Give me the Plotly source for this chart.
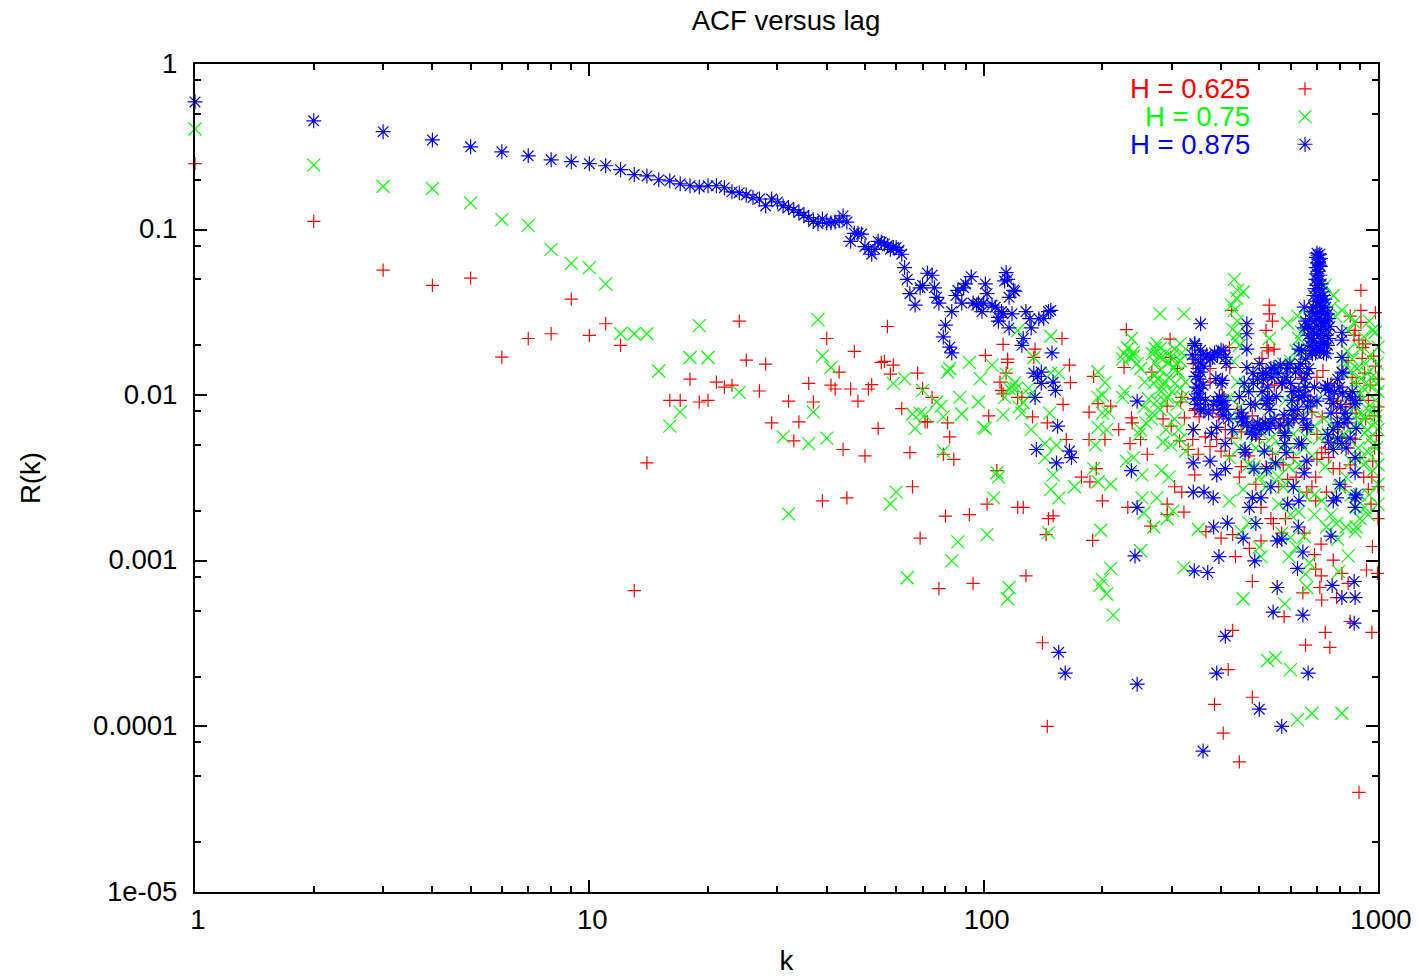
import plotly.graph_objects as go

TITLE = "ACF versus lag"
X_LABEL = "k"
Y_LABEL = "R(k)"
NAMES = ["H = 0.625", "H = 0.75", "H = 0.875"]
COLORS = ["#ff0000", "#00ff00", "#0000ff"]
X_TICKS = [1, 10, 100, 1000]
Y_TICKS = [1, 0.1, 0.01, 0.001, 0.0001, 0.00001]
Y_TICK_TEXT = ["1", "0.1", "0.01", "0.001", "0.0001", "1e-05"]

h625 = [(1,.25),(2,.112),(3,.057),(4,.046),(5,.051),(6,.017),(7,.022),(8,.0235),(9,.038),(10,.023),(11,.027),(12,.02),(13,.00066),(14,.0039),
(16,.0093),(17,.0093),(18,.0125),(19,.0091),(20,.0093),(21,.012),(22,.0112),(23,.0115),(24,.028),(25,.0163),(27,.0106),(28,.0154),(29,.0068),(32,.0092),(33,.0053),(34,.0069),(36,.0118),(37,.0091),(39,.0023),(40,.022),(41,.0115),(42,.0109),(43,.0138),(44,.0047),(45,.0024),(46,.0109),(47,.0184),(48,.0092),(50,.0043),(51,.0109),(52,.0116),(54,.0063),(55,.0158),(56,.016),(57,.026),(58,.0134),(59,.0152),(62,.0083),(65,.0045),(66,.0028),(68,.0136),(69,.00137),(70,.011),(71,.0069),(72,.0069),(74,.0097),(77,.00068),(79,.0044),(80,.00186),(81,.0068),(82,.0056),(84,.0041),(92,.0019),(94,.00073),(101,.0174),(102,.0022),(103,.0075),(108,.0035),(110,.012),(111,.0107),(112,.0203),(112,.0102),(114,.0136),(115,.0165),(115,.0158),(122,.0097),(122,.0021),
(125,.0097),(126,.0021),(128,.00081),(133,.0074),(134,.0169),(135,.019),(141,.00032),(144,.00144),(145,.0068),(145,.0001),(146,.0018),(150,.00187),(158,.022),(159,.0088),(162,.0054),(165,.0152),(166,.0119),(177,.0032),(185,.0079),(185,.0054),(186,.003),(189,.00133),(190,.013),(193,.0036),(195,.0089),(200,.0023),(203,.0054),(210,.0086),(220,.0062),(227,.0147),(230,.0249),(232,.0021),(235,.0051),(237,.0073),(238,.0068),(250,.0054),(260,.0044),(265,.00162),(267,.0138),(285,.0072),(292,.0086),(292,.0022),(292,.0019),(297,.0218),(298,.0169),(299,.0065),(305,.0028),(310,.0145),(314,.0053),(318,.0097),(318,.0026),(316,.0091),(322,.00197),(323,.0073),(339,.0054),(340,.0155),(343,.0033),(343,.0081),(345,.0083),(352,.0074),(365,.0056),(366,.0015),(375,.0145),(375,.012),(375,.0049),(380,.0081),(385,.000136),(390,.0054),(395,.0074),(400,.00137),(403,.01),(405,.000091),(417,.00022),(420,.0194),(421,.0147),(425,.0325),(428,.00144),(428,.00038),(435,.00106),(445,.000061),(445,.0032),(450,.006),(472,.00119),(480,.00075),(480,.00015),(490,.0029),(500,.0054),(505,.00132),(505,.0021),(508,.0167),(520,.0246),(523,.0194),(527,.0185),(530,.035),(530,.031),(535,.0018),(540,.028),(540,.0044),(543,.00168),(545,.019),(546,.0115),(570,.00147),(578,.00046),(583,.0018),(585,.0147),(590,.0066),(590,.0031),(600,.0118),(645,.00064),(650,.00147),(655,.00031),(680,.0079),(680,.0028),(690,.00109),(695,.0023),(695,.0032),(695,.00089),(712,.00069),(717,.00126),(718,.00081),(720,.0045),(720,.00058),(722,.0074),(725,.0141),(735,.00037),(750,.0042),(755,.0003),(770,.0036),(770,.00101),(785,.0078),(785,.0006),(795,.0064),(810,.00084),(825,.0028),(840,.0162),(840,.0068),(840,.00073),(850,.03),(850,.00043),(870,.023),(875,.0246),(875,.0054),(881,.0118),(895,.0215),(895,.00004),(905,.043),(905,.0325),(905,.0275),(912,.0167),(915,.0194),(925,.0136),(930,.0204),(935,.00088),(945,.0027),(945,.0093),(960,.0022),(965,.0032),(965,.00037),(968,.00122),(975,.0172),(985,.0315),(985,.015),(990,.0057),(970,.004),(997,.00084),
(580,.012),(640,.0128),(700,.0128),(610,.0105),(665,.0098),(760,.0118),(815,.0105),(860,.0128),(900,.0098),(955,.0115),(1000,.0125),(1000,.0085),(980,.0075),(930,.0072),(880,.0078),(860,.0085),(830,.0088),(790,.0092),(700,.0058),(660,.0062),(620,.0075),(575,.0072),(560,.0065),(510,.0068),(480,.0075),(465,.0065),(440,.0082),(425,.0055),(410,.0062),(560,.0028),(620,.0032),(660,.0026),(740,.0026),(800,.0036),(850,.0038),(900,.0042),(920,.0032),(1000,.0028),(980,.0048),(1000,.0018),(840,.0048),(810,.0056),(760,.0052),(735,.0048),(700,.0041),(650,.0036),(610,.0042),(575,.0038),(520,.0037),(470,.0043),(450,.0037),(420,.0043),(400,.0046),(350,.0044),(330,.0047)]

h750 = [(1,.405),(2,.245),(3,.182),(4,.177),(5,.145),(6,.115),(7,.106),(8,.076),(9,.0625),(10,.059),(11,.047),(12,.0235),(13,.0235),(14,.0235),(15,.014),(16,.0065),(17,.0079),(18,.0169),(19,.0263),(20,.0169),(24,.0104),(31,.0056),(32,.00192),(36,.0051),(37,.0079),(38,.0286),(39,.0172),(40,.0055),(41,.0147),(58,.0022),(59,.0118),(60,.0026),(63,.0126),(64,.00079),(66,.0077),(67,.0063),(69,.0078),(70,.0107),(71,.0076),(76,.0091),(78,.0086),(79,.0074),(79,.0046),(81,.0138),(82,.0145),(83,.001),(86,.0013),(87,.0097),(88,.0077),(92,.0158),(97,.0091),(98,.0126),(100,.0064),(101,.0063),(102,.00144),(105,.0152),(106,.0024),(108,.0034),(109,.0032),(112,.0076),(113,.0097),(114,.0134),(115,.00059),(116,.00069),(116,.011),(118,.0112),(120,.0119),(121,.011),(122,.0246),(123,.0085),
(125,.0078),(126,.009),(130,.011),(131,.01),(132,.0062),(134,.0169),(143,.0051),(143,.0042),(146,.00148),(147,.0078),(148,.0227),(148,.0136),(148,.0027),(150,.0033),(153,.005),(155,.0136),(155,.0024),(170,.0028),(190,.0036),(192,.005),(195,.0138),(195,.0097),(195,.0064),(195,.003),(197,.00071),(198,.00153),(200,.00077),(200,.01),(200,.0078),(203,.0119),(205,.0062),(205,.00063),(207,.0079),(210,.0029),(210,.0009),(213,.00047),(225,.0097),(228,.0105),(230,.004),(235,.0169),(227,.0179),(240,.0172),(237,.022),(240,.0042),(250,.0062),(248,.0058),(250,.00115),(252,.0033),(252,.0024),(255,.0085),(255,.00195),(256,.012),(268,.0078),(270,.0016),(272,.0158),(275,.0205),(275,.0024),(272,.0132),(280,.031),(280,.0142),(281,.0192),(282,.0035),(283,.0112),(288,.012),(292,.0097),(292,.0018),(295,.0032),(298,.005),(302,.002),(305,.019),(315,.0205),(315,.0162),(315,.011),(318,.018),(315,.0054),(320,.0097),(322,.031),(322,.00091),(325,.012),(325,.0046),(350,.00155),
(420,.0042),(420,.0023),(420,.0097),(425,.035),(432,.05),(432,.0325),(438,.0385),(440,.043),(440,.028),(440,.0235),(455,.042),(455,.0027),(455,.00059),(465,.0112),(485,.0037),(500,.00121),(505,.00106),(510,.0093),(525,.0034),(525,.00025),(530,.022),(530,.007),(540,.0056),(550,.00026),(560,.0022),(570,.00147),(580,.00055),(583,.0093),(590,.0272),(595,.0037),(595,.00106),(600,.0047),(600,.00138),(600,.00022),(610,.0079),(625,.03),(625,.00011),(630,.022),(630,.00197),(645,.019),(655,.0056),(655,.00083),(660,.00069),(670,.00097),(680,.0043),(680,.00012),(695,.0093),(735,.046),(735,.0037),(770,.04),(785,.00168),(790,.00135),(795,.00086),(810,.0325),(810,.00012),(830,.0097),(840,.00107),(850,.03),(855,.004),(875,.0085),(875,.0015),(880,.0021),(925,.0108),(925,.0059),(945,.0081),(945,.0019),(968,.0246),(970,.005),(985,.0093),(985,.0068),
(268,.0178),(272,.0192),(278,.0172),(285,.0165),(290,.018),(295,.0158),(300,.0172),(303,.0145),(308,.0155),(312,.0138),(270,.0118),(276,.0125),(282,.0105),(288,.0092),(295,.0128),(300,.0105),(306,.0118),(310,.0088),(275,.0092),(280,.0082),(262,.0095),(266,.0072),(258,.0068),(305,.0072),(312,.0062),(290,.0062),(285,.0052),(240,.0182),(232,.0192),(225,.0165),(245,.0155),(250,.0145),
(820,.016),(835,.0185),(850,.014),(860,.0165),(870,.012),(885,.0145),(895,.0105),(905,.0125),(915,.0095),(930,.0155),(940,.0135),(950,.0115),(960,.0175),(975,.0132),(990,.0118),(995,.0155),(1000,.0105),(880,.0075),(895,.0068),(910,.0078),(925,.0072),(940,.0062),(955,.0055),(975,.0082),(990,.0075),(1000,.0062),(890,.0048),(905,.0042),(920,.0038),(945,.0045),(970,.0035),(990,.0048),(1000,.0038),(850,.0062),(830,.0072),(815,.0058),(790,.0052),(770,.0068),(750,.0058),(730,.0072),(710,.0055),(690,.0065),(670,.0082),(650,.0048),(630,.0038),(610,.0058),(590,.0063),(570,.0048),(550,.0038),(530,.0048),(510,.0058),(490,.0048),(470,.0038),(445,.0048),(435,.0058),(430,.0072),(445,.0085),(475,.0065),(500,.0032),(520,.0028),(560,.0032),(575,.0028),(610,.0028),(650,.0025),(690,.0025),(720,.0023),(760,.0019),(800,.0028),(830,.0032),(855,.0025),(900,.0025),(925,.0021),(950,.0025),(1000,.0022),(900,.0018),(1000,.0029),(830,.0016),(880,.0016),(740,.0016),(690,.0019),(600,.0019),(470,.0017),(450,.0015),(650,.0014),(620,.0012),
(600,.016),(620,.0185),(640,.024),(660,.027),(675,.03),(695,.025),(760,.034),(780,.03),(840,.0245),(870,.0275),(900,.019),(920,.0225),(950,.028),(985,.024),(1000,.0195),(560,.0145),(575,.0155),(428,.025),(435,.0215),(445,.02),(430,.016),(440,.012)]

h875 = [(1,.59),(2,.454),(3,.39),(4,.348),(5,.316),(6,.295),(7,.279),(8,.264),(9,.257),(10,.25),(11,.243),(12,.23),(13,.215),(14,.211),(15,.2),(16,.197),(17,.189),(18,.184),(19,.181),(20,.184),(21,.184),(22,.179),(23,.169),(24,.167),(25,.162),(26,.156),(27,.153),(28,.139),(29,.153),(30,.147),(31,.139),(32,.136),(33,.132),(34,.127),(35,.122),(36,.118),(37,.112),(38,.109),(39,.116),(40,.11),(41,.11),(42,.111),(43,.113),(44,.121),(45,.111),(46,.085),(47,.095),(48,.095),(49,.094),(50,.079),(51,.076),(52,.071),(53,.076),(54,.085),(55,.084),(56,.082),(57,.08),(58,.076),(59,.078),(60,.078),(61,.075),(62,.071),(63,.059),(64,.05),(65,.041),(67,.035),(69,.0445),(70,.046),(72,.0545),(74,.053),(75,.0445),(76,.039),(77,.036),(79,.0225),(80,.0265),(82,.0195),(83,.032),(83,.018),(85,.04),(86,.043),(88,.036),(89,.0445),(90,.047),(93,.052),(94,.036),(96,.035),(97,.036),(99,.032),(100,.036),(101,.047),(102,.041),(105,.035),(107,.034),(109,.028),(109,.0295),(111,.032),(112,.031),(113,.049),(114,.055),(115,.05),(116,.039),(116,.0255),(118,.031),(119,.043),(120,.0425),
(125,.02),(126,.022),(128,.032),(131,.029),(132,.0255),(134,.0136),(135,.0097),(136,.0047),(137,.013),(138,.029),(140,.0138),(140,.0118),(142,.029),(146,.032),(148,.0325),(149,.018),(150,.012),(152,.0107),(153,.0039),(154,.0065),(155,.00028),(161,.00021),(165,.0046),(167,.0042),(237,.0035),(242,.00107),(245,.0092),(245,.0021),(245,.00018),
(340,.0062),(340,.0039),(340,.0026),(342,.00087),(343,.02),(343,.0205),(347,.0112),(350,.0102),(352,.011),(355,.027),(355,.0187),(355,.0157),(355,.0138),(355,.0097),(360,.000071),(362,.0026),(365,.0093),(370,.00085),(375,.004),(378,.0059),(380,.0169),(382,.0024),(383,.0016),(388,.0126),(390,.0064),(390,.0033),(390,.00021),(395,.00106),(400,.0187),(400,.0118),(403,.0091),(403,.0123),(407,.0093),(405,.0087),(410,.0169),(410,.0051),(410,.0036),(410,.00035),(415,.00169),(450,.0078),(455,.0069),(455,.0074),(455,.00137),(460,.0045),(460,.0047),(465,.027),(465,.0235),(465,.019),(465,.0147),(472,.0021),(475,.0088),(480,.0059),(480,.0024),(482,.0136),(485,.0036),(485,.0064),(487,.001),(490,.0058),(490,.00168),(495,.0068),(500,.000127),(505,.0062),(505,.0024),(510,.0136),(515,.0046),(520,.0136),(520,.0089),(522,.0036),(525,.0093),(530,.0063),(530,.0096),(535,.0068),(535,.0028),(542,.00049),(545,.0147),(550,.0039),(555,.00069),(555,.00132),(570,.0118),(570,.00135),(570,.0001),(580,.0059),(580,.0051),(580,.0057),(585,.0045),(590,.0145),(590,.0022),(605,.0081),(605,.0093),(610,.0028),(625,.0009),(628,.0016),(630,.019),(630,.0145),(630,.0107),(630,.0097),(630,.0051),(630,.0023),(640,.0051),(645,.00113),(645,.00047),(650,.034),(650,.0255),(650,.01),(650,.0034),(655,.028),(655,.0112),(660,.0066),(660,.004),(660,.0064),(665,.00021),
(700,.072),(705,.07),(712,.071),(698,.068),(708,.066),(715,.067),(702,.063),(710,.061),(697,.059),(714,.06),(704,.056),(700,.054),(712,.053),(696,.05),(708,.049),(718,.047),(700,.046),(692,.044),(712,.044),(722,.042),(688,.04),(705,.04),(728,.04),(695,.037),(715,.037),(733,.038),(685,.034),(703,.035),(722,.034),(738,.034),(680,.032),(695,.031),(712,.032),(730,.031),(745,.031),(672,.029),(690,.028),(705,.029),(720,.028),(735,.028),(750,.029),(668,.026),(680,.025),(698,.026),(715,.025),(728,.026),(742,.025),(755,.026),(665,.023),(678,.022),(690,.0235),(708,.023),(722,.022),(738,.023),(750,.022),(672,.02),(685,.021),(700,.0195),(715,.02),(730,.0205),(745,.02),(680,.0185),(695,.018),(712,.0185),(728,.018),(740,.0178),
(735,.011),(750,.0107),(760,.0078),(760,.00141),(765,.00071),(770,.0047),(770,.0062),(770,.0089),(770,.0023),(785,.0024),(800,.0029),(810,.024),(810,.0215),(810,.0169),(810,.0138),(810,.0051),(810,.0006),(812,.0102),(815,.0136),(820,.0068),(870,.00075),(870,.00042),(875,.0042),(875,.0093),(875,.0089),(875,.0034),(875,.0024),(875,.0021),(875,.0006),(880,.0063),(880,.0025),
(338,.0175),(345,.0165),(350,.0145),(358,.0175),(362,.015),(368,.0175),(375,.0165),(385,.018),(392,.0175),(405,.0185),(412,.0155),(345,.013),(352,.0125),(360,.0115),(342,.0095),(348,.0088),(355,.0082),(362,.0082),(372,.0078),(383,.0088),(390,.0092),(396,.0098),(400,.0082),(405,.0076),(412,.0082),(418,.0072),(428,.0062),
(445,.0098),(452,.0072),(458,.0118),(465,.0066),(470,.0105),(478,.0058),(483,.0118),(488,.0088),(495,.0125),(500,.0066),(508,.0105),(512,.0125),(518,.0068),(525,.0112),(532,.0082),(538,.0128),(545,.0072),(552,.0098),(558,.0135),(565,.0066),(572,.0118),(578,.0076),(585,.0128),(592,.0068),(598,.0155),(605,.0105),(612,.0072),(618,.0138),(625,.0082),(635,.0155),(642,.0098),(648,.0072),(655,.0165),(662,.0085),(668,.0145),(675,.0092),(682,.0178),(690,.0112),(700,.0092),(640,.0185),(650,.0125),(660,.0135),(500,.0155),(535,.0145),(565,.0152),(600,.0118),
(745,.0115),(755,.0095),(775,.0105),(790,.0125),(800,.0112),(805,.0085),(825,.0078),(835,.0072),(850,.0098),(860,.0105),(790,.0055),(830,.0048),(850,.0055),(790,.0068),(745,.0058),(750,.0052)]

SYMBOLS = ["cross-thin", "x-thin", "asterisk"]
SERIES = [h625, h750, h875]

fig = go.Figure()
for series, name, color, sym, size in zip(SERIES, NAMES, COLORS, SYMBOLS, [9.5, 13, 12.5]):
    fig.add_trace(go.Scatter(
        x=[p[0] for p in series], y=[p[1] for p in series],
        mode="markers", name=" ", hovertext=name, cliponaxis=False,
        marker=dict(symbol=sym, size=size, color=color,
                    line=dict(color=color, width=1.2)),
    ))

FONT = "Liberation Sans, Arial, sans-serif"
SIZE = 27.6
L, R, T, B = 195, 41, 64, 84
PW, PH = 1419 - L - R, 976 - T - B
x_minor = [m * 10 ** e for e in range(3) for m in range(2, 10)]
y_minor = [m * 10.0 ** e for e in range(-5, 0) for m in (2, 5, 8)]

annotations = []
for name, color, yp in zip(NAMES, COLORS, [88, 116, 144]):
    annotations.append(dict(text=name, xref="paper", yref="paper",
                            x=(1252 - L) / PW, y=1 - (yp - T) / PH,
                            xanchor="right", yanchor="middle", showarrow=False,
                            font=dict(color=color, size=SIZE, family=FONT)))

axis_common = dict(showgrid=False, zeroline=False, showline=True, linecolor="black",
                   linewidth=2, mirror="ticks", ticks="inside", ticklen=12,
                   tickwidth=1.5, tickcolor="black", automargin=False)

fig.update_layout(
    width=1419, height=976, margin=dict(l=L, r=R, t=T, b=B, pad=0, autoexpand=False),
    paper_bgcolor="white", plot_bgcolor="white",
    font=dict(family=FONT, size=SIZE, color="black"),
    title=dict(text=TITLE, x=786 / 1419, xanchor="center", y=1 - 20 / 976, yanchor="middle",
               font=dict(size=SIZE, family=FONT)),
    annotations=annotations,
    legend=dict(x=(1285 - L) / PW, y=1 - (70 - T) / PH, xanchor="left", yanchor="top",
                bgcolor="rgba(0,0,0,0)", borderwidth=0, font=dict(size=19),
                tracegroupgap=0),
    showlegend=True,
    xaxis=dict(type="log", range=[0, 3], tickmode="array", tickvals=X_TICKS,
               ticktext=[str(v) for v in X_TICKS], ticklabelshift=3, ticklabelstandoff=2,
               title=dict(text=X_LABEL, standoff=20, font=dict(size=SIZE, family=FONT)),
               minor=dict(tickmode="array", tickvals=x_minor, ticks="inside", ticklen=6,
                          tickwidth=1.5, tickcolor="black", showgrid=False),
               **axis_common),
    yaxis=dict(type="log", range=[-5, 0], tickmode="array", tickvals=Y_TICKS,
               ticktext=Y_TICK_TEXT, ticklabelstandoff=10, ticklabelshift=-1,
               title=dict(text=Y_LABEL, standoff=44, font=dict(size=SIZE, family=FONT)),
               minor=dict(tickmode="array", tickvals=y_minor, ticks="inside", ticklen=6,
                          tickwidth=1.5, tickcolor="black", showgrid=False),
               **axis_common),
)
fig.write_html("out.html", config={"displayModeBar": False},
               post_script="document.body.style.margin='0';")
